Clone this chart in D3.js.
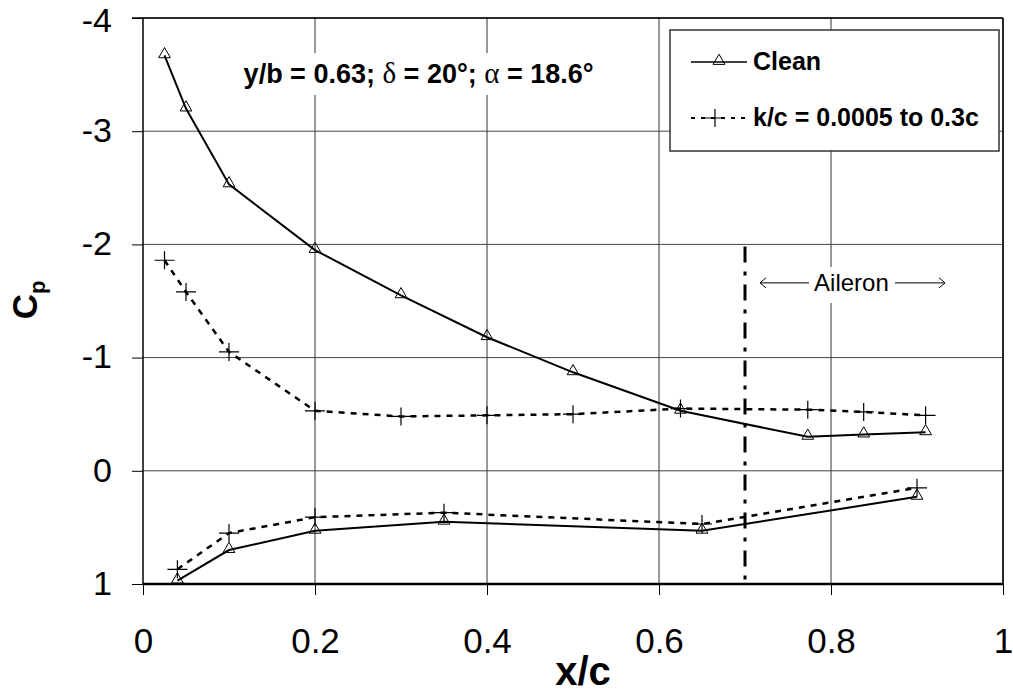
<!DOCTYPE html>
<html>
<head>
<meta charset="utf-8">
<script src="https://cdnjs.cloudflare.com/ajax/libs/d3/7.8.5/d3.min.js"></script>
<style>
  body { margin: 0; background: #fff; }
  svg { font-family: "Liberation Sans", Arial, sans-serif; }
</style>
</head>
<body>
<svg class="chartSvg" width="1013" height="693"></svg>
<script>
// data (x/c, Cp)
var cleanUpperX = [0.025, 0.05, 0.1, 0.2, 0.3, 0.4, 0.5, 0.625, 0.773, 0.838, 0.91];
var cleanUpperCp = [-3.67, -3.20, -2.53, -1.95, -1.55, -1.18, -0.87, -0.53, -0.30, -0.32, -0.34];
var cleanLowerX = [0.04, 0.1, 0.2, 0.35, 0.65, 0.9];
var cleanLowerCp = [0.97, 0.70, 0.53, 0.45, 0.53, 0.23];
var roughUpperX = [0.025, 0.05, 0.1, 0.2, 0.3, 0.4, 0.5, 0.625, 0.773, 0.838, 0.91];
var roughUpperCp = [-1.86, -1.58, -1.05, -0.53, -0.48, -0.49, -0.50, -0.55, -0.54, -0.52, -0.49];
var roughLowerX = [0.04, 0.1, 0.2, 0.35, 0.65, 0.9];
var roughLowerCp = [0.87, 0.55, 0.41, 0.37, 0.47, 0.15];

var xTicks = [0, 0.2, 0.4, 0.6, 0.8, 1];
var yTicks = [-4, -3, -2, -1, 0, 1];
var aileronX = 0.7;
var legendKeys = ["Clean", "k/c = 0.0005 to 0.3c"];

var margin = {top: 18, right: 10, bottom: 109, left: 143},
    width = 1013 - margin.left - margin.right,
    height = 693 - margin.top - margin.bottom;

var svg = d3.select(".chartSvg")
    .append("g")
    .attr("transform", "translate(" + margin.left + "," + margin.top + ")");

var x = d3.scaleLinear().domain([0, 1]).range([0, width]);
var y = d3.scaleLinear().domain([-4, 1]).range([0, height]);   // Cp negative up

function pairs(xs, ys) {
    return xs.map(function(d, i) { return {x: d, y: ys[i]}; });
}

var line = d3.line()
    .x(function(d) { return x(d.x); })
    .y(function(d) { return y(d.y); });

// grid
svg.append("g")
    .selectAll("line")
    .data(yTicks.slice(0, -1))
    .enter().append("line")
    .attr("x1", 0).attr("x2", width)
    .attr("y1", function(d) { return y(d); })
    .attr("y2", function(d) { return y(d); })
    .attr("stroke", "#444").attr("stroke-width", 1);

svg.append("g")
    .selectAll("line")
    .data(xTicks.slice(1))
    .enter().append("line")
    .attr("y1", 0).attr("y2", height)
    .attr("x1", function(d) { return x(d); })
    .attr("x2", function(d) { return x(d); })
    .attr("stroke", "#333").attr("stroke-width", 1);

// axes
var xAxis = d3.axisBottom(x).tickValues(xTicks).tickSize(11).tickPadding(33)
    .tickFormat(function(d) { return d3.format("")(d); });
var yAxis = d3.axisLeft(y).tickValues(yTicks).tickSize(11).tickPadding(20)
    .tickFormat(function(d) { return d; });

var gx = svg.append("g")
    .attr("class", "x axis")
    .attr("transform", "translate(0," + height + ")")
    .call(xAxis);
gx.select(".domain").remove();
gx.selectAll("line").attr("stroke", "#000");
gx.append("line").attr("x1", 0).attr("x2", width).attr("stroke", "#000").attr("stroke-width", 2.5);
gx.selectAll("text")
    .attr("fill", "#000")
    .style("font-size", "35px");

var gy = svg.append("g")
    .attr("class", "y axis")
    .call(yAxis);
gy.select(".domain").remove();
gy.selectAll("line").attr("stroke", "#000");
gy.append("line").attr("y1", 0).attr("y2", height).attr("stroke", "#000").attr("stroke-width", 1.5);
gy.selectAll("text")
    .attr("fill", "#000")
    .attr("dy", function(d) { return d === -4 ? "0.4em" : "0.3em"; })
    .style("font-size", "34px");

// annotation with white backing
svg.append("rect")
    .attr("x", x(0.113)).attr("y", 35)
    .attr("width", 378).attr("height", 42)
    .attr("fill", "#fff");
var note = svg.append("text")
    .attr("x", x(0.117)).attr("y", 65)
    .style("font-size", "27px").style("font-weight", "bold");
note.append("tspan").text("y/b = 0.63; ");
note.append("tspan").style("font-family", "'Liberation Serif', serif").style("font-weight", "normal").style("font-size", "29px").text("\u03b4");
note.append("tspan").text(" = 20\u00b0; ");
note.append("tspan").style("font-family", "'Liberation Serif', serif").style("font-weight", "normal").style("font-size", "29px").text("\u03b1");
note.append("tspan").text(" = 18.6\u00b0");

// aileron hinge
svg.append("line")
    .attr("x1", x(aileronX)).attr("x2", x(aileronX))
    .attr("y1", y(-2) + 2).attr("y2", height)
    .attr("stroke", "#000").attr("stroke-width", 3)
    .attr("stroke-dasharray", "16,9,4,9");

svg.append("rect")
    .attr("x", x(0.712)).attr("y", y(-1.8))
    .attr("width", 195).attr("height", 36)
    .attr("fill", "#fff");
var ay = y(-1.66);
svg.append("text")
    .attr("x", x(0.8238)).attr("y", ay + 8)
    .attr("text-anchor", "middle")
    .style("font-size", "24px")
    .text("Aileron");
[[x(0.7174), x(0.7744)], [x(0.8744), x(0.9326)]].forEach(function(seg, i) {
    svg.append("line")
        .attr("x1", seg[0]).attr("x2", seg[1])
        .attr("y1", ay).attr("y2", ay)
        .attr("stroke", "#000").attr("stroke-width", 1);
    var tip = i === 0 ? seg[0] : seg[1], dir = i === 0 ? 1 : -1;
    svg.append("path")
        .attr("d", "M" + (tip + dir * 6) + "," + (ay - 5) + "L" + tip + "," + ay + "L" + (tip + dir * 6) + "," + (ay + 5))
        .attr("fill", "none").attr("stroke", "#000").attr("stroke-width", 1);
});

// series
var series = [
    {data: pairs(cleanUpperX, cleanUpperCp), dash: null, w: 2, m: "tri"},
    {data: pairs(cleanLowerX, cleanLowerCp), dash: null, w: 2, m: "tri"},
    {data: pairs(roughUpperX, roughUpperCp), dash: "6,6", w: 2.5, m: "plus"},
    {data: pairs(roughLowerX, roughLowerCp), dash: "6,6", w: 2.5, m: "plus"}
];

var triangle = d3.symbol().type(d3.symbolTriangle).size(60);
function marker(g, type) {
    if (type === "tri") {
        g.append("path").attr("d", triangle)
            .attr("transform", "translate(0,-1)")
            .attr("fill", "none").attr("stroke", "#000").attr("stroke-width", 1);
    } else {
        g.append("path").attr("d", "M-10,0H10M0,-9V9")
            .attr("fill", "none").attr("stroke", "#000").attr("stroke-width", 1.2);
    }
}

series.forEach(function(s) {
    svg.append("path")
        .datum(s.data)
        .attr("class", "line")
        .attr("fill", "none")
        .attr("stroke", "#000")
        .attr("stroke-width", s.w)
        .attr("stroke-dasharray", s.dash)
        .attr("d", line);
    svg.selectAll(null)
        .data(s.data)
        .enter().append("g")
        .attr("transform", function(d) { return "translate(" + x(d.x) + "," + y(d.y) + ")"; })
        .each(function() { marker(d3.select(this), s.m); });
});

// plot frame top & right
svg.append("line").attr("x1", -11).attr("x2", width).attr("y1", 0).attr("y2", 0).attr("stroke", "#000").attr("stroke-width", 1.5);
svg.append("line").attr("x1", width).attr("x2", width).attr("y1", 0).attr("y2", height).attr("stroke", "#000").attr("stroke-width", 1.5);

// legend
var legend = svg.append("g")
    .attr("transform", "translate(" + (670 - margin.left) + "," + (30 - margin.top) + ")");
legend.append("rect")
    .attr("width", 329).attr("height", 121)
    .attr("fill", "#fff").attr("stroke", "#333").attr("stroke-width", 1.5);

var lineLegend = legend.selectAll(".lineLegend")
    .data(legendKeys)
    .enter().append("g")
    .attr("class", "lineLegend")
    .attr("transform", function(d, i) { return "translate(0," + (32 + i * 56) + ")"; });
lineLegend.append("line")
    .attr("x1", 21).attr("x2", 77)
    .attr("stroke", "#000")
    .attr("stroke-width", function(d, i) { return i ? 2 : 1.5; })
    .attr("stroke-dasharray", function(d, i) { return i ? "4,6" : null; });
lineLegend.each(function(d, i) {
    var g = d3.select(this).append("g").attr("transform", "translate(" + (i ? 45 : 49) + ",0)");
    marker(g, i ? "plus" : "tri");
});
lineLegend.append("text")
    .attr("x", 83).attr("y", 8)
    .style("font-size", "25px").style("font-weight", "bold")
    .text(function(d) { return d; });

// axis titles
svg.append("text")
    .attr("x", 583 - margin.left).attr("y", 685 - margin.top)
    .attr("text-anchor", "middle")
    .style("font-size", "40px").style("font-weight", "bold")
    .text("x/c");

var cp = svg.append("text")
    .attr("transform", "translate(" + (37 - margin.left) + "," + (300 - margin.top) + ") rotate(-90)")
    .attr("text-anchor", "middle")
    .style("font-size", "35px").style("font-weight", "bold");
cp.append("tspan").text("C");
cp.append("tspan").attr("dy", 8).style("font-size", "22px").text("p");
</script>
</body>
</html>
